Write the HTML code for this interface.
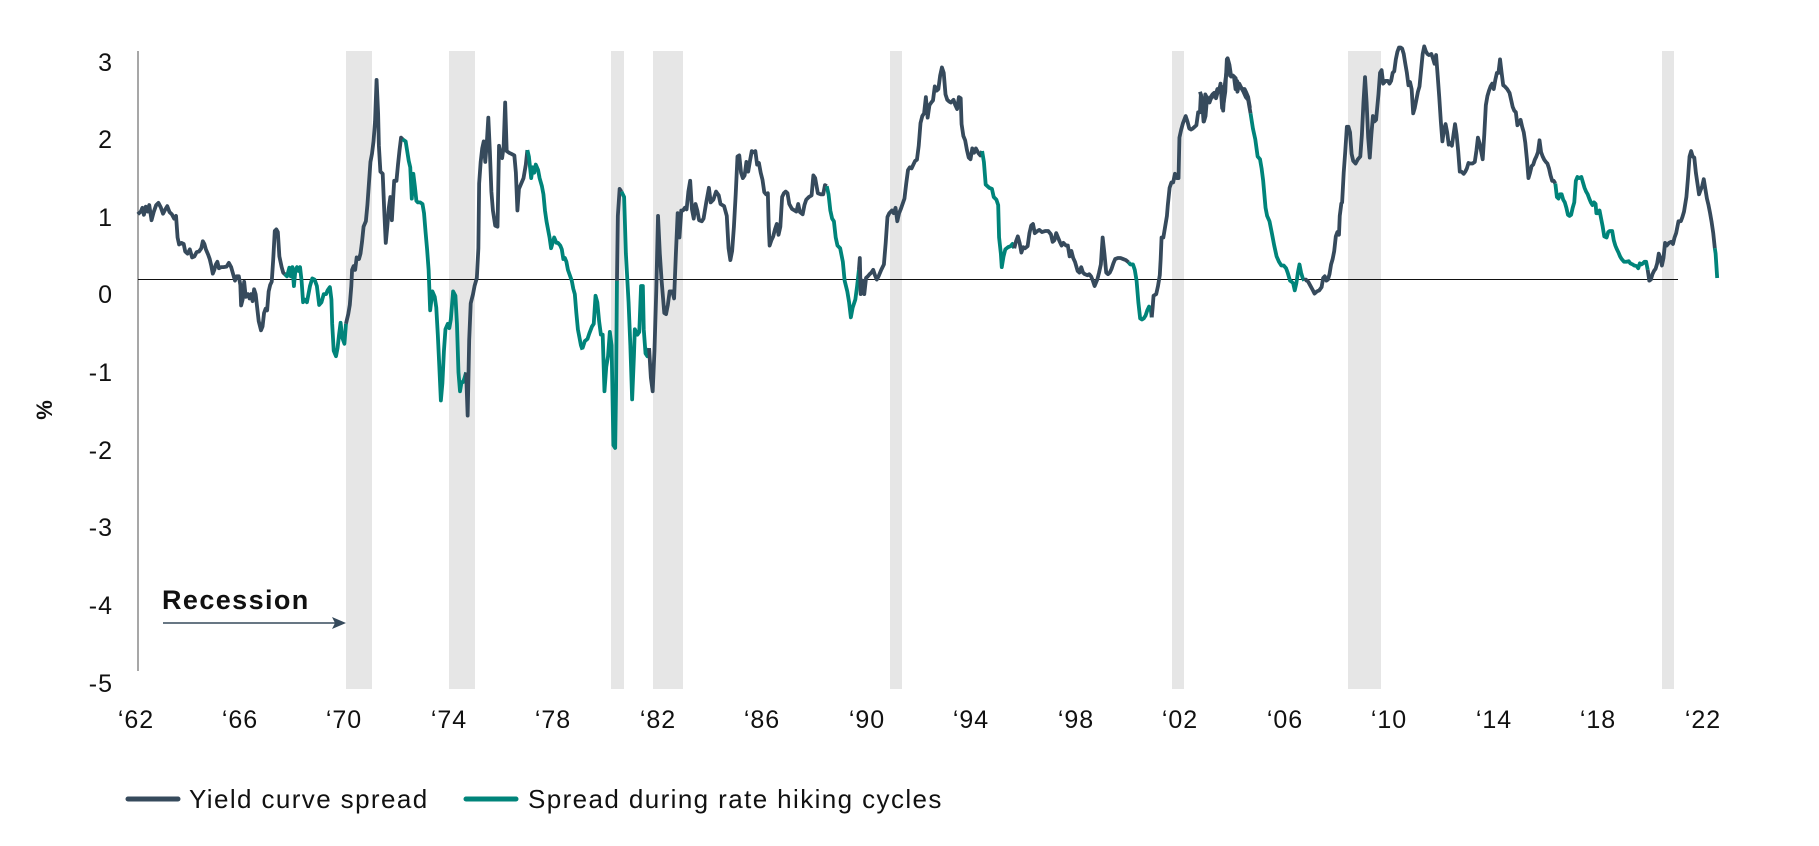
<!DOCTYPE html>
<html><head><meta charset="utf-8">
<style>
html,body{margin:0;padding:0;background:#fff;}
svg{display:block;font-family:"Liberation Sans",sans-serif;}
.d{fill:none;stroke:#364a5c;stroke-width:3.8;stroke-linejoin:round;vector-effect:non-scaling-stroke}
.t{fill:none;stroke:#00847a;stroke-width:3.8;stroke-linejoin:round;vector-effect:non-scaling-stroke}
.tk{font-size:25px;fill:#111;letter-spacing:1px}
</style></head>
<body>
<svg width="1819" height="846" viewBox="0 0 1819 846">
<g fill="#e6e6e6">
<rect x="346" y="51" width="26" height="638"/>
<rect x="449" y="51" width="26" height="638"/>
<rect x="611" y="51" width="13" height="638"/>
<rect x="653" y="51" width="30" height="638"/>
<rect x="890" y="51" width="12" height="638"/>
<rect x="1172" y="51" width="12" height="638"/>
<rect x="1348" y="51" width="33" height="638"/>
<rect x="1662" y="51" width="12" height="638"/>
</g>
<line x1="138" y1="51" x2="138" y2="671" stroke="#8a8a8a" stroke-width="1.5"/>
<line x1="138" y1="279.5" x2="1678" y2="279.5" stroke="#111" stroke-width="1"/>
<g class="tk" text-anchor="end">
<text x="113" y="71">3</text><text x="113" y="148">2</text><text x="113" y="226">1</text>
<text x="113" y="303">0</text><text x="113" y="381">-1</text><text x="113" y="459">-2</text>
<text x="113" y="536">-3</text><text x="113" y="614">-4</text><text x="113" y="692">-5</text>
</g>
<g class="tk" text-anchor="middle">
<text x="136" y="728">‘62</text><text x="240" y="728">‘66</text><text x="344" y="728">‘70</text>
<text x="449" y="728">‘74</text><text x="553" y="728">‘78</text><text x="658" y="728">‘82</text>
<text x="762" y="728">‘86</text><text x="867" y="728">‘90</text><text x="971" y="728">‘94</text>
<text x="1076" y="728">‘98</text><text x="1180" y="728">‘02</text><text x="1285" y="728">‘06</text>
<text x="1389" y="728">‘10</text><text x="1494" y="728">‘14</text><text x="1598" y="728">‘18</text>
<text x="1703" y="728">‘22</text>
</g>
<text transform="translate(52,410) rotate(-90)" text-anchor="middle" font-size="22" font-weight="bold" fill="#111">%</text>
<text x="162" y="609" font-size="27" font-weight="bold" fill="#111" letter-spacing="1.4">Recession</text>
<line x1="163" y1="623" x2="338" y2="623" stroke="#364a5c" stroke-width="1.5"/>
<path d="M346,623 L332,617 L335,623 L332,629 Z" fill="#364a5c"/>

<g transform="scale(0.3827,0.5397)">
<polyline class="d" points="360,397 368,392 372,385 376,398 381,383 386,392 390,380 396,408 402,392 408,380 414,376 420,384 426,396 432,388 437,382 443,393 449,397 455,405 460,400 464,440 468,453 474,450 480,452 484,466 490,470 496,462 502,477 508,475 514,467 520,466 526,460 530,447 534,452 538,462 544,472 548,480 552,492 556,507 560,500 564,490 568,485 572,497 578,495 584,495 592,494 598,487 604,495 610,510 614,520 618,512 624,512 628,528 630,566 634,555 638,522 642,550 648,545 652,553 656,545 660,558 664,536 668,545 672,570 676,595 682,612 686,605 690,580 694,572 698,575 702,540 706,528 710,522 714,480 718,428 722,425 726,430 730,475 736,495 740,505 744,508"/>
<polyline class="t" points="744,508 750,512 756,496 760,512 764,495 768,530 772,500 776,495 780,502 784,495 788,520 792,560 796,555 802,560 806,545 810,530 816,516 822,518 828,530 834,565 840,560 846,545 852,545 856,538 862,532 866,555 868,600 872,650 878,660 882,645 886,620 890,598 894,625 900,637 904,600"/>
<polyline class="d" points="904,600 910,582 914,565 918,530 920,500 924,493 928,500 932,477 938,480 942,470 946,448 950,420 956,410 960,380 964,340 968,300 972,285 976,262 980,225 984,148 988,210 990,270 994,318 1000,322 1004,390 1008,450 1012,420 1016,385 1020,365 1024,408 1030,335 1036,335 1040,305 1044,278 1048,255 1052,258"/>
<polyline class="t" points="1052,258 1060,262 1064,280 1068,298 1072,310 1076,368 1080,322 1084,345 1088,372 1092,375 1098,375 1104,378 1108,395 1112,430 1116,462 1120,500 1124,575 1130,540 1136,550 1140,570 1144,620 1148,680 1152,742 1156,710 1160,650 1164,610 1170,600 1174,608 1178,592 1184,540 1190,548 1194,600 1198,690 1202,725 1206,708 1210,708 1214,700 1218,690"/>
<polyline class="d" points="1218,690 1222,770 1226,630 1230,562 1236,545 1240,530 1246,515 1250,460 1252,340 1256,300 1260,275 1264,262 1268,300 1272,265 1276,218 1280,280 1284,355 1288,390 1294,418 1300,420 1304,270 1308,290 1312,293 1316,272 1320,190 1324,280 1330,283 1336,285 1344,288 1348,320 1352,390 1356,350 1362,340 1368,330 1374,305 1378,278"/>
<polyline class="t" points="1378,278 1382,290 1388,330 1392,310 1396,320 1400,305 1406,315 1410,330 1416,345 1420,360 1424,390 1428,410 1432,425 1436,440 1440,460 1444,450 1448,440 1454,450 1458,450 1464,455 1468,462 1472,480 1476,478 1480,485 1484,500 1490,512 1494,520 1498,535 1502,545 1506,580 1510,610 1514,625 1518,640 1522,648"/>
</g>

<g transform="translate(550,0) scale(0.4464,0.5397)">
<polyline class="t" points="73,645 78,632 84,628 88,618 94,605 98,600 102,548 106,560 110,595 114,620 118,620 122,725 126,680 130,660 134,615 138,640 142,825 146,830 148,720 150,520"/>
<polyline class="d" points="150,520 152,400 156,350 160,355"/>
<polyline class="t" points="160,355 166,365 170,470 176,560 180,640 184,740 188,660 190,610 196,620 200,615 204,530 208,530 210,610 214,655 218,660 222,645"/>
<polyline class="d" points="222,645 226,700 230,725 234,650 238,540 242,400 246,470 250,520 256,580 260,582 264,565 268,540 274,540 278,553 282,470 286,395 290,440 294,390 298,390 302,385 306,388 310,355 314,335 318,388 322,405 326,378 330,390 334,408 340,410 344,405 350,375 356,348 360,375 366,370 372,355 378,362 382,378 390,382 396,400 400,460 404,482 408,465 412,420 416,360 420,290 424,288 428,320 432,330 436,325 440,300 444,318 448,298 452,280 456,282 460,280 464,305 468,302 472,320 476,333 480,356 484,360 488,358 490,420 492,455 496,445 500,438 504,425 508,415 512,435 516,420 520,365 524,358 528,355 532,358 536,378 542,387 548,390 552,392 556,378 560,393 566,397 570,380 574,370 580,365 586,362 590,325 594,330 600,358 606,360 612,360 616,343 620,345"/>
<polyline class="t" points="620,345 624,360 628,390 632,405 636,410 640,440 644,455 650,460 656,485 660,520 666,540 670,560 674,588 678,570 684,555 688,530 692,500"/>
<polyline class="d" points="692,500 694,478 696,545 700,520 704,545 708,515 712,512 716,508 720,505 724,500 728,510 732,518 736,512 742,500 748,490 752,450 756,402 760,395 766,390 770,395 774,385 778,410 782,395 786,387 794,368 798,340 802,315 806,310 810,312 814,305 818,298 822,296 826,270 830,228 834,215 838,210 842,180 846,218 850,195 854,190 858,186 862,160 866,168 870,165 874,140 878,125 882,135 886,175 890,185 894,188 898,190 904,185 908,195 912,202 916,180 920,182 922,230 926,252 930,260 934,278 938,292 942,295 946,275 950,283 954,275 960,284 964,288 968,280"/>
<polyline class="t" points="968,280 972,300 976,342 980,345 984,348 990,350 994,365 1000,370 1004,380 1006,440 1010,470 1012,495 1016,475 1020,462 1026,458 1032,456 1036,452 1040,460"/>
<polyline class="d" points="1040,460 1044,447 1048,438 1052,450 1056,468 1060,458 1064,460 1070,456 1074,432 1078,418 1082,415 1086,432 1092,428 1096,426 1102,430 1110,428 1116,428 1122,434 1126,448 1130,445 1134,432 1138,440 1142,448 1146,455 1150,450 1156,455 1160,455 1164,475 1168,465 1172,478 1176,485 1182,502 1186,505 1190,495 1194,505 1198,508 1204,510 1208,508 1212,512 1216,520 1220,530 1226,518 1230,505 1234,490 1238,440 1242,470 1246,505 1250,508 1254,505 1258,498 1262,488 1266,480 1272,478 1278,478 1284,480 1290,482 1296,486"/>
<polyline class="t" points="1296,486 1300,490 1306,490 1310,500 1314,520 1318,560 1322,590 1326,592 1330,590 1334,585 1338,575 1342,568 1346,575 1348,588"/>
<polyline class="d" points="1348,588 1350,570 1352,548 1358,545 1362,530 1366,510 1368,480 1370,440 1374,440 1378,420 1382,400 1384,380 1388,348 1392,338 1396,338 1400,322 1404,330 1408,330 1410,255 1414,240 1418,228 1424,215 1428,225 1432,238 1436,240 1440,238 1444,235 1448,232 1452,208 1456,208 1458,175 1462,200 1464,225 1468,175 1472,182 1476,185 1480,180 1484,175 1488,172 1492,182 1496,170 1500,162 1504,160 1508,205 1512,155 1516,130 1518,108 1522,120 1526,142 1530,140 1536,145 1540,170 1544,155 1550,165 1556,165 1560,172 1564,180 1568,200"/>
</g>

<g transform="translate(1200,0) scale(0.3948,0.5397)">
<polyline class="d" points="0,170 6,185 10,225 14,215 18,180 24,190 28,182 34,178 40,175 44,165 48,170 52,155 56,200 60,190 64,170 68,110 72,115 76,140 80,140 86,142 90,165 94,150 98,160 104,162 110,170 116,180 122,185 128,210"/>
<polyline class="t" points="128,210 134,238 140,258 146,290 152,295 156,312 160,335 166,385 170,400 176,410 182,432 188,455 194,475 200,485 206,492 212,492 218,497 222,505 228,520 232,522 236,525 240,538 244,525 248,505 252,490 256,505 260,515 264,520"/>
<polyline class="d" points="264,520 268,518 274,522 280,530 286,538 290,544 296,540 302,538 308,532 312,515 316,512 320,520 324,518 328,508 332,490 336,480 340,465 344,438 348,430 352,435 354,400 358,377 360,375 364,320 368,280 372,235 376,235 380,245 384,285 388,298 394,303 400,295 406,290 410,250 414,190 418,143 422,190 426,255 430,292 434,250 438,215 442,225 446,222 452,175 456,135 460,130 464,155 470,150 476,150 480,155 484,150 488,135 492,132 496,110 500,96 504,88 508,88 512,90 516,100 520,118 524,135 528,158 532,152 536,165 540,210 544,200 548,185 552,170 556,160 560,130 564,100 568,86 572,95 576,100 580,102 586,100 590,108 594,118 598,102 602,140 606,180 610,225 614,262 618,240 622,230 626,245 630,268 634,265 638,270 642,250 646,230 650,250 654,280 658,318 662,318 668,322 672,318 676,312 680,302 684,303 690,303 696,300 700,280 704,255 708,265 712,280 716,295 720,250 724,195 728,178 732,168 736,160 740,155 744,165 748,148 752,135 756,135 760,110 764,135 768,158 772,160 778,165 784,172 788,185 792,198 796,205 800,208 804,232 808,228 812,222 816,235 820,245 824,265 828,295 832,330 836,320 840,308 844,305 848,296 852,290 856,282 860,260 864,282 868,290 872,296 876,300 880,303 884,312 888,325 892,335 896,335 900,340"/>
<polyline class="t" points="900,340 904,365 908,368 912,360 916,360 920,370 924,375 928,385 932,398 936,400 940,398 944,385 948,375 952,335 956,328 960,330 966,328 970,338 974,348 978,355 982,360 986,368 990,375 994,380 998,375 1002,378 1004,395 1008,395 1012,390 1016,405 1020,420 1024,438 1030,440 1034,430 1038,428 1044,428 1048,445 1052,455 1056,462 1060,468 1064,475 1068,480 1074,485 1080,485 1086,484 1090,488 1096,490 1100,492 1106,493 1110,497 1114,488 1118,490 1122,488 1126,485 1130,485 1134,500"/>
<polyline class="d" points="1134,500 1138,520 1142,518 1146,508 1150,502 1154,498 1158,488 1162,470 1166,478 1170,492 1174,478 1178,450 1182,455 1188,450 1194,448 1198,452 1202,440 1206,432 1212,410 1218,410 1222,402 1226,392 1232,365 1236,330 1240,290 1244,280 1248,290 1252,292 1256,320 1260,340 1264,360 1268,352 1272,345 1276,332 1280,350 1284,368 1288,380 1292,395 1296,412 1300,432 1304,460"/>
<polyline class="t" points="1304,460 1306,470 1310,515"/>
</g>

<line x1="128" y1="799" x2="178" y2="799" stroke="#364a5c" stroke-width="5" stroke-linecap="round"/>
<text x="189" y="808" font-size="26" fill="#111" letter-spacing="1.4">Yield curve spread</text>
<line x1="466" y1="799" x2="516" y2="799" stroke="#00847a" stroke-width="5" stroke-linecap="round"/>
<text x="528" y="808" font-size="26" fill="#111" letter-spacing="1.4">Spread during rate hiking cycles</text>
</svg>
</body></html>
